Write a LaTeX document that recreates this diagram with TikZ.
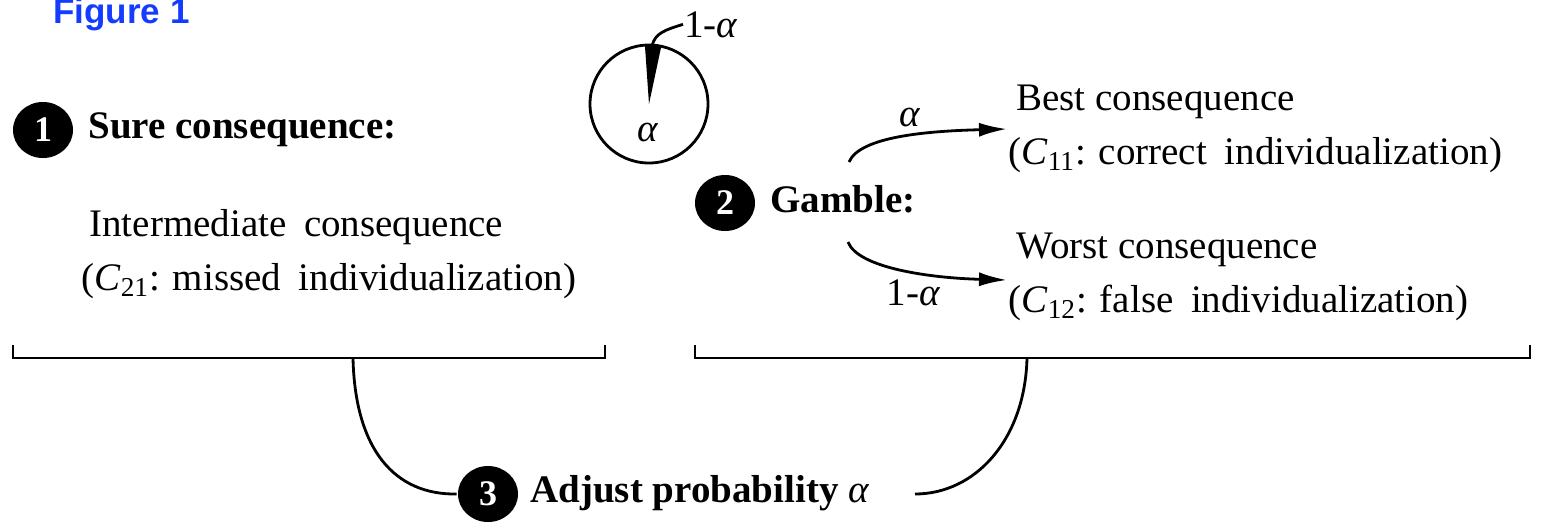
\documentclass[tikz,border=0pt]{standalone}
\usepackage{fontspec}
\setmainfont{Liberation Serif}
\newfontfamily\figfont{Liberation Sans}
\usetikzlibrary{arrows.meta,shapes.geometric}
\definecolor{figblue}{RGB}{20,60,255}
\newcommand{\alp}{{\mdseries\itshape α}}
\newcommand{\wsp}{\hspace{0.45em}}
\begin{document}
\begin{tikzpicture}[x=0.5pt,y=-0.5pt,line width=1.4pt,
  txt/.style={font=\fontsize{19.5}{23}\selectfont,inner sep=0pt,anchor=base west},
  btxt/.style={font=\bfseries\fontsize{19.5}{23}\selectfont,inner sep=0pt,anchor=base west},
  badge/.style={ellipse,fill=black,text=white,minimum width=30pt,minimum height=28pt,inner sep=0pt,font=\bfseries\fontsize{18}{18}\selectfont},
  arr/.style={-{Latex[length=14pt,width=7pt]}},
  lbl/.style={font=\fontsize{19.5}{23}\selectfont,inner sep=0pt}]
\useasboundingbox (0,0) rectangle (1542,521);

% title
\node[anchor=base west,inner sep=0pt,text=figblue,font=\figfont\bfseries\fontsize{17.5}{20}\selectfont] (fig) at (52,23) {Figure 1};

% part 1
\node[badge] (b1) at (43,130) {1};
\node[btxt] (sure) at (87,138) {Sure consequence:};
\node[txt] (inter1) at (88,236) {Intermediate\wsp consequence};
\node[txt] (inter2) at (80,290) {(\textit{C}\textsubscript{21}: missed\wsp individualization)};

% pie
\node[circle,draw,minimum size=59pt,inner sep=0pt] (pie) at (649,104) {};
\fill (649,104) -- (644.9,45.1) arc[start angle=-94,end angle=-78,radius=59] -- cycle;
\coordinate (wtop) at (652,46);
\node[lbl,anchor=base west] (oma) at (683,37) {1-\alp};
\draw (wtop) .. controls (655,33) and (665,30) .. (oma.west);
\node[lbl] (a0) at (648,132) {\alp};

% part 2
\node[badge] (b2) at (725,203) {2};
\node[btxt] (gamble) at (769,212) {Gamble:};
\node[txt] (best1) at (1015,110) {Best consequence};
\node[txt] (best2) at (1007,164) {(\textit{C}\textsubscript{11}: correct\wsp individualization)};
\node[txt] (worst1) at (1015,258) {Worst consequence};
\node[txt] (worst2) at (1007,312) {(\textit{C}\textsubscript{12}: false\wsp individualization)};
\coordinate (g1) at (849,162);
\coordinate (g2) at (848,242);
\coordinate (t1) at (1007,129);
\coordinate (t2) at (1007,280);
\draw[arr] (g1) .. controls (860,136) and (930,131) .. (t1);
\draw[arr] (g2) .. controls (858,268) and (930,278) .. (t2);
\node[lbl] (la) at (910,117) {\alp};
\node[lbl] (lb) at (913,293) {1-\alp};

% brackets
\coordinate (L1) at (13,345);
\coordinate (L2) at (605,345);
\coordinate (R1) at (695,345);
\coordinate (R2) at (1530,345);
\draw (L1) -- ++(0,13) -| (L2);
\draw (R1) -- ++(0,13) -| (R2);

% part 3
\node[badge] (b3) at (488,494) {3};
\node[btxt] (adj) at (529,502) {Adjust probability \alp};
\coordinate (lc) at (353,358);
\coordinate (rc) at (1027,358);
\coordinate (re) at (915,494);
\draw (lc) .. controls (355,450) and (395,495) .. (b3.west);
\draw (rc) .. controls (1025,440) and (975,494) .. (re);
\end{tikzpicture}
\end{document}
